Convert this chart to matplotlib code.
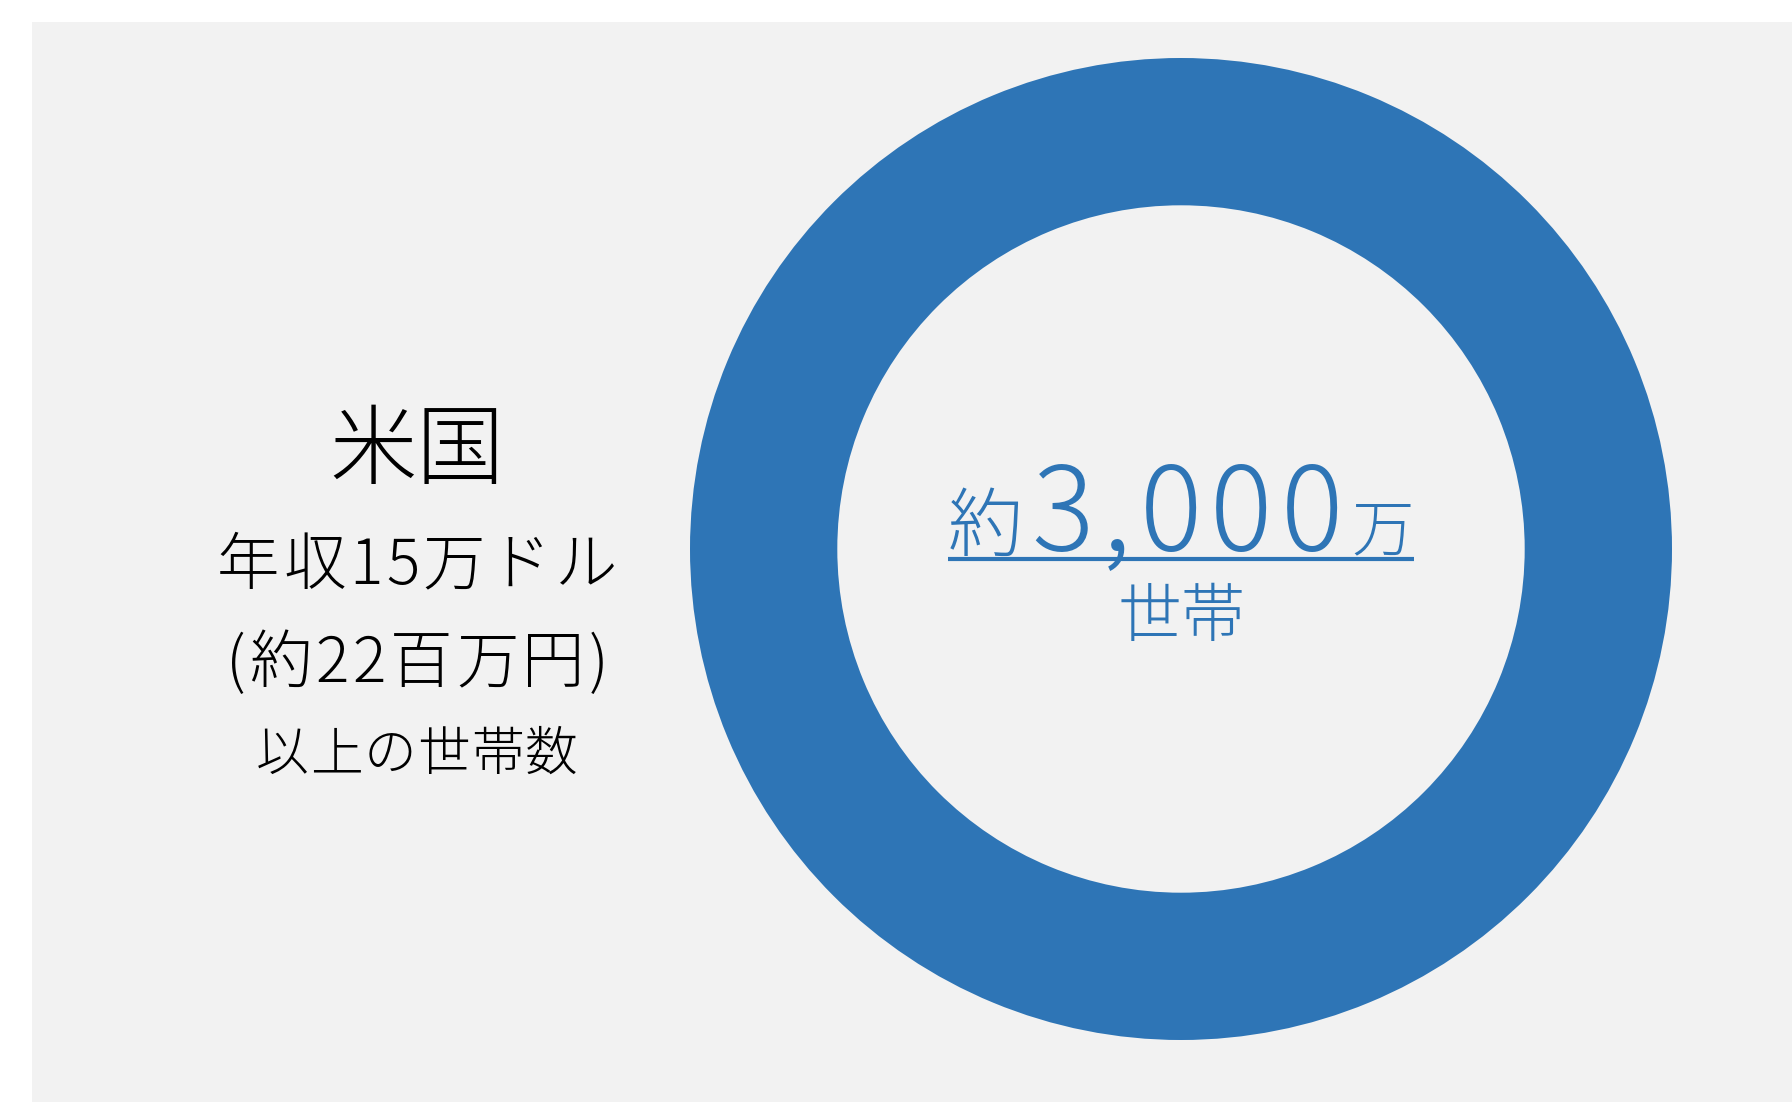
import matplotlib
matplotlib.use('Agg')
import matplotlib.pyplot as plt
from matplotlib.patches import Rectangle
from matplotlib.lines import Line2D
from matplotlib.transforms import IdentityTransform

plt.rcParams['font.family'] = ['Noto Sans CJK JP', 'DejaVu Sans']

# chart data
country = '米国'
condition_lines = ['年収15万ドル', '(約22百万円)', '以上の世帯数']
households = [3000]          # 万世帯
value_prefix = '約'
value_text = '3,000'
value_unit = '万'
value_suffix = '世帯'

ring_color = '#2E75B6'
panel_color = '#F2F2F2'
weight = 'light'

W, H = 1792, 1102
fig = plt.figure(figsize=(W / 100, H / 100), dpi=100)
fig.patch.set_facecolor('white')
renderer = fig.canvas.get_renderer()

# grey panel behind everything
fig.patches.append(Rectangle((32 / W, 0), 1 - 32 / W, 1 - 22 / H,
                             transform=fig.transFigure, facecolor=panel_color,
                             edgecolor='none', zorder=-5))

# donut axes, centre (1181, 549) px, outer radius 491 px
cx, cy, r = 1181, 549, 491
ax = fig.add_axes([(cx - r) / W, (H - cy - r) / H, 2 * r / W, 2 * r / H])
ax.pie(households, colors=[ring_color], radius=1, startangle=90,
       wedgeprops=dict(width=0.30, edgecolor='none'))
ax.set_xlim(-1, 1)
ax.set_ylim(-1, 1)
ax.set_aspect('equal')
ax.axis('off')


# draws pieces of text side by side on one baseline, spread to a given width
def tracked_text(pieces, xc, yb, width, color):
    texts = []
    for s, fs in pieces:
        texts.append(fig.text(0, 0, s, ha='left', va='baseline', fontsize=fs,
                              color=color, fontweight=weight,
                              transform=IdentityTransform()))
    widths = [t.get_window_extent(renderer).width for t in texts]
    gap = max((width - sum(widths)) / max(len(texts) - 1, 1), 0)
    width = sum(widths) + gap * (len(texts) - 1)
    x = xc - width / 2
    for t, w in zip(texts, widths):
        t.set_position((x, yb))
        x += w + gap
    return xc - width / 2, xc + width / 2


# left text block (pixel positions measured from the top)
left_x = 417
fig.text(left_x, H - 477, country, ha='center', va='baseline', fontsize=63,
         color='black', fontweight=weight, transform=IdentityTransform())
sizes = [45, 45, 38]
baselines = [584, 682, 770]
line_widths = [400, 382, 322]
for line, fs, yb, lw in zip(condition_lines, sizes, baselines, line_widths):
    tracked_text([(c, fs) for c in line], left_x, H - yb, lw, 'black')

# centre value: mixed sizes on one baseline, then underline
ccx, ccy = ax.transData.transform((0, 0))
pieces = [(value_prefix, 54)] + [(c, 84) for c in value_text] + [(value_unit, 45)]
x0, x1 = tracked_text(pieces, ccx, ccy - 1, 466, ring_color)
fig.add_artist(Line2D([x0, x1], [ccy - 10, ccy - 10], color=ring_color,
                      linewidth=3, solid_capstyle='butt',
                      transform=IdentityTransform()))

tracked_text([(c, 46) for c in value_suffix], ccx, ccy - 87, 125, ring_color)

fig.savefig('out.png', dpi=100)
